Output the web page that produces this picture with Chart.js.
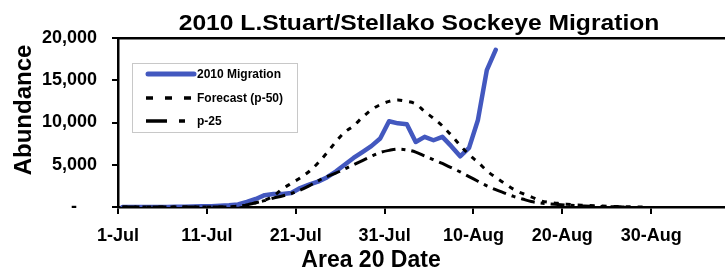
<!DOCTYPE html>
<html><head><meta charset="utf-8">
<style>html,body{margin:0;padding:0;background:#fff;}#wrap{width:725px;height:270px;}</style>
<script src="https://cdn.jsdelivr.net/npm/chart.js@4.4.1/dist/chart.umd.min.js"></script>
</head><body><div id="wrap"><canvas id="c" width="725" height="270"></canvas></div>
<script>
const chartTitle = '2010 L.Stuart/Stellako Sockeye Migration';
const xTitle = 'Area 20 Date';
const yTitle = 'Abundance';
const tickDays = [0, 10, 20, 30, 40, 50, 60];
const tickLabels = ['1-Jul', '11-Jul', '21-Jul', '31-Jul', '10-Aug', '20-Aug', '30-Aug'];
const yTicks = [0, 5000, 10000, 15000, 20000];
const seriesNames = ['2010 Migration', 'Forecast (p-50)', 'p-25'];
// daily values, index 0 = 1-Jul
const migration2010 = [0,0,0,0,0,0,20,30,50,80,100,150,200,300,600,950,1400,1550,1550,1650,2250,2650,3000,3500,4200,5000,5800,6500,7200,8100,10150,9900,9800,7700,8300,7900,8300,7200,6000,7000,10300,16200,18600];
const forecastP50 = [0,0,0,0,0,0,0,0,0,0,0,0,30,80,200,500,800,1300,2150,2800,3450,4200,5200,6400,7700,8850,9600,10600,11500,12100,12500,12650,12500,12200,11300,10500,9600,8500,7300,6200,5300,4300,3500,2800,2100,1600,1200,750,550,430,330,250,200,150,110,80,50,30,10,0];
const forecastP25 = [0,0,0,0,0,0,0,0,0,0,0,0,20,100,250,500,750,1050,1300,1600,2000,2500,3100,3600,4000,4500,5000,5500,6000,6450,6700,6850,6750,6500,6050,5600,5150,4650,4150,3600,3050,2500,2050,1650,1250,950,650,480,380,300,220,160,110,80,50,30,15,0];

const FONT = '"Liberation Sans", Arial, sans-serif';
const toPoints = arr => arr.map((v, i) => ({ x: i + 0.5, y: v }));

const textPlugin = {
  id: 'texts',
  afterDraw(chart) {
    const c = chart.ctx;
    c.save();
    c.fillStyle = '#000';
    c.textAlign = 'center';
    c.textBaseline = 'alphabetic';
    c.save();
    c.translate(419, 30);
    c.scale(1.12, 1);
    c.font = 'bold 22px ' + FONT;
    c.fillText(chartTitle, 0, 0);
    c.restore();
    c.font = 'bold 23px ' + FONT;
    c.fillText(xTitle, 371, 267);
    c.translate(31, 110);
    c.rotate(-Math.PI / 2);
    c.font = 'bold 24px ' + FONT;
    c.fillText(yTitle, 0, 0);
    c.restore();
  }
};

const legendPlugin = {
  id: 'boxLegend',
  afterDatasetsDraw(chart) {
    const c = chart.ctx;
    const a = chart.chartArea;
    const bx = a.left + 14.5, by = a.top + 25.5, bw = 165, bh = 69;
    c.save();
    c.fillStyle = '#fff';
    c.fillRect(bx, by, bw, bh);
    c.strokeStyle = '#c8c8c8';
    c.lineWidth = 1;
    c.strokeRect(bx, by, bw, bh);
    const dashes = [[], [7, 12], [21, 12, 6, 12]];
    const rows = [74, 98, 121];
    chart.data.datasets.forEach((ds, i) => {
      const y = rows[i];
      c.beginPath();
      c.setLineDash(dashes[i]);
      c.strokeStyle = ds.borderColor;
      c.lineWidth = i === 0 ? 5 : 3.5;
      c.lineCap = i === 0 ? 'round' : 'butt';
      c.moveTo(i === 0 ? 148 : 146, y);
      c.lineTo(i === 0 ? 194 : 192, y);
      c.stroke();
      c.setLineDash([]);
      c.fillStyle = '#000';
      c.font = 'bold 12px ' + FONT;
      c.textAlign = 'left';
      c.textBaseline = 'middle';
      c.fillText(ds.label, 197, y + 1);
    });
    c.restore();
  }
};

new Chart(document.getElementById('c'), {
  type: 'line',
  data: {
    datasets: [
      { label: seriesNames[0], data: toPoints(migration2010), borderColor: '#4358bf', borderWidth: 4.5,
        pointRadius: 0, tension: 0, order: 2, borderJoinStyle: 'round', borderCapStyle: 'round' },
      { label: seriesNames[1], data: toPoints(forecastP50), borderColor: '#000', borderWidth: 3,
        borderDash: [5, 7], pointRadius: 0, cubicInterpolationMode: 'monotone', order: 1 },
      { label: seriesNames[2], data: toPoints(forecastP25), borderColor: '#000', borderWidth: 3,
        borderDash: [14, 6, 4, 6], pointRadius: 0, cubicInterpolationMode: 'monotone', order: 1 }
    ]
  },
  options: {
    responsive: false,
    animation: false,
    layout: { padding: { top: 38, right: 0, bottom: 0, left: 0 } },
    plugins: { legend: { display: false }, tooltip: { enabled: false }, title: { display: false } },
    scales: {
      x: {
        type: 'linear', min: 0, max: 68.3,
        afterBuildTicks: s => { s.ticks = tickDays.map(v => ({ value: v })); },
        afterFit: s => { s.height = 63; },
        ticks: {
          callback: v => { const k = tickDays.indexOf(v); return k >= 0 ? tickLabels[k] : ''; },
          font: { family: FONT, size: 18, weight: 'bold' }, color: '#000', padding: 11,
          maxRotation: 0, autoSkip: false
        },
        grid: { drawOnChartArea: false, color: '#000', lineWidth: 2, tickLength: 7 },
        border: { color: '#000', width: 2.5 }
      },
      xTop: {
        type: 'linear', position: 'top', min: 0, max: 68.3,
        ticks: { display: false }, grid: { display: false, drawTicks: false },
        border: { display: true, color: '#000', width: 2.5 },
        afterFit: s => { s.height = 0; }
      },
      y: {
        min: 0, max: 20000,
        afterBuildTicks: s => { s.ticks = yTicks.map(v => ({ value: v })); },
        afterFit: s => { s.width = 118; },
        ticks: {
          callback: v => v === 0 ? '-    ' : v.toLocaleString('en-US'),
          font: { family: FONT, size: 18, weight: 'bold' }, color: '#000', padding: 15
        },
        grid: { drawOnChartArea: false, color: '#000', lineWidth: 2, tickLength: 6 },
        border: { color: '#000', width: 2.5 }
      }
    }
  },
  plugins: [textPlugin, legendPlugin]
});
</script>
</body></html>
